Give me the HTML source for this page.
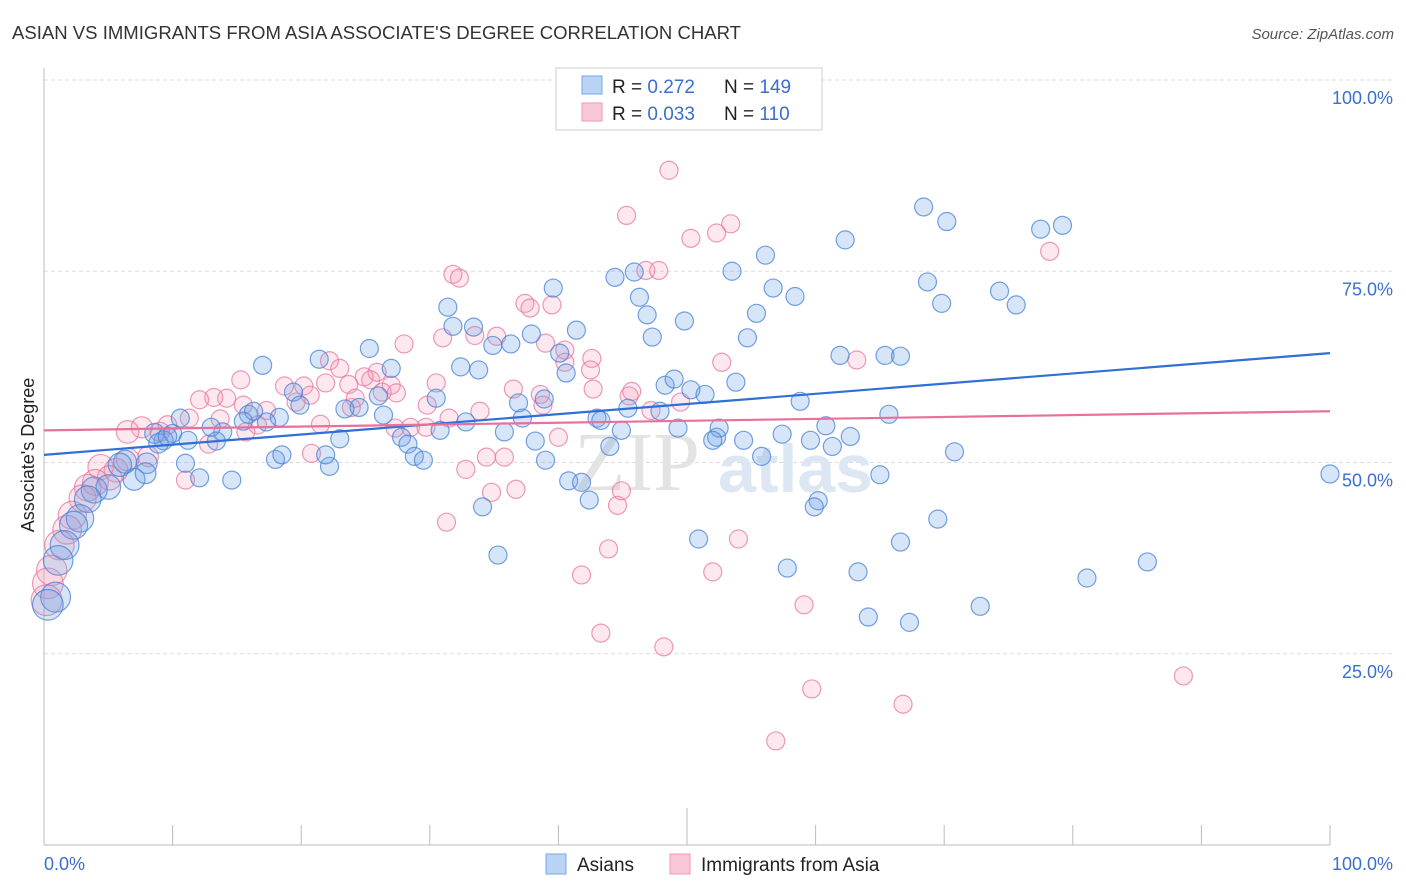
<!DOCTYPE html>
<html><head><meta charset="utf-8"><style>
body{margin:0;background:#fff;font-family:"Liberation Sans",sans-serif;}
svg{display:block}
</style></head><body>
<svg id="c" width="1406" height="892" xmlns="http://www.w3.org/2000/svg">
<text x="12" y="39" font-size="18" fill="#333" textLength="729" lengthAdjust="spacingAndGlyphs">ASIAN VS IMMIGRANTS FROM ASIA ASSOCIATE'S DEGREE CORRELATION CHART</text>
<text x="1394" y="39" font-size="15" fill="#555" font-style="italic" text-anchor="end">Source: ZipAtlas.com</text>
<g id="grid"></g>
<text x="700" y="490" font-size="84" fill="#e3e3e3" font-family="Liberation Serif,serif" text-anchor="end">ZIP</text>
<text x="718" y="492" font-size="68" fill="#dde7f3" font-weight="bold">atlas</text>
<g id="pts"></g>
<g id="lines"></g>
<text x="34" y="455" font-size="18" fill="#222" text-anchor="middle" transform="rotate(-90 34 455)">Associate's Degree</text>
<g>
<rect x="556" y="68" width="266" height="62" fill="#fff" stroke="#ccc"/>
<rect x="582" y="76" width="20" height="18" fill="#b9d3f5" stroke="#7aa6e6"/>
<rect x="582" y="103" width="20" height="18" fill="#f9c6d6" stroke="#ee9ab5"/>
<text x="612" y="93" font-size="19" fill="#222">R = <tspan fill="#3a6fd0">0.272</tspan><tspan x="724">N = </tspan><tspan fill="#3a6fd0">149</tspan></text>
<text x="612" y="120" font-size="19" fill="#222">R = <tspan fill="#3a6fd0">0.033</tspan><tspan x="724">N = </tspan><tspan fill="#3a6fd0">110</tspan></text>
</g>
<g>
<rect x="546" y="854" width="20" height="20" fill="#b9d3f5" stroke="#7aa6e6"/>
<text x="577" y="871" font-size="19" fill="#222">Asians</text>
<rect x="670" y="854" width="20" height="20" fill="#f9c6d6" stroke="#ee9ab5"/>
<text x="701" y="871" font-size="19" fill="#222">Immigrants from Asia</text>
</g>
</svg>
<script>
const yTicks=[25,50,75,100];
const yTickLabels=["25.0%","50.0%","75.0%","100.0%"];
const xTicks=[0,10,20,30,40,50,60,70,80,90,100];
const blueX=[100,68.4,70.2,77.5,79.2,62.3,56.1,53.5,68.7,74.3,75.6,69.8,56.7,58.4,55.4,54.7,44.4,45.9,46.3,46.9,47.3,49.8,39.6,41.4,37.9,36.3,34.9,31.4,31.8,33.4,32.4,33.8,30.5,25.3,27.0,26.0,21.4,17.0,19.4,24.5,23.4,23.0,22.2,21.9,26.4,27.8,28.3,28.8,29.5,30.8,32.8,35.8,37.2,38.9,40.1,40.6,43.0,43.3,45.4,44.9,44.0,47.9,48.3,49.0,50.3,51.4,53.8,58.8,61.9,65.4,66.6,65.7,60.8,62.7,61.3,59.6,57.4,54.4,52.3,52.5,52.0,49.3,55.8,70.8,65.0,60.2,59.9,50.9,57.8,63.3,66.6,69.5,64.1,67.3,72.8,81.1,85.8,35.3,34.1,42.4,40.8,41.8,38.2,39.0,36.9,19.9,18.3,15.9,16.3,15.5,17.3,13.9,13.0,13.4,10.6,10.0,9.3,8.6,8.9,11.2,11.0,12.1,14.6,18.0,18.5,9.6,8.0,7.0,7.9,6.3,5.9,5.0,3.9,3.4,2.8,2.3,1.6,1.1,0.9,0.3];
const blueY=[48.5,83.4,81.5,80.5,81.0,79.1,77.1,75.0,73.6,72.4,70.6,70.8,72.8,71.7,69.5,66.3,74.2,74.9,71.6,69.3,66.4,68.5,72.8,67.3,66.8,65.5,65.3,70.3,67.8,67.7,62.5,62.1,58.4,64.9,62.3,58.7,63.5,62.7,59.2,57.2,57.0,53.1,49.5,51.0,56.2,53.3,52.4,50.8,50.3,54.2,55.3,54.0,55.8,58.3,64.3,61.7,55.8,55.5,57.1,54.2,52.1,56.7,60.1,60.9,59.5,58.9,60.5,58.0,64.0,64.0,63.9,56.3,54.8,53.4,52.1,52.9,53.7,52.9,53.3,54.5,52.9,54.5,50.8,51.4,48.4,45.0,44.2,40.0,36.2,35.7,39.6,42.6,29.8,29.1,31.2,34.9,37.0,37.9,44.2,45.1,47.6,47.4,52.8,50.3,57.8,57.5,55.9,56.3,56.7,55.4,55.3,54.0,54.6,52.8,55.8,53.8,52.9,53.8,52.5,52.9,49.9,48.0,47.7,50.4,51.0,53.4,49.9,47.8,48.6,50.1,49.7,46.8,46.4,45.2,42.7,41.8,39.2,37.2,32.4,31.4];
const pinkX=[48.6,45.3,53.4,52.3,50.3,78.2,31.8,32.3,46.8,47.8,37.4,39.5,37.8,31.0,33.5,35.2,39.0,40.5,40.5,42.6,42.5,52.7,28.0,22.2,23.0,25.4,25.9,24.9,23.7,21.9,20.2,18.7,19.6,20.7,21.5,20.8,23.9,24.2,26.3,27.0,27.4,29.8,30.5,27.3,28.5,29.7,31.5,33.9,36.5,38.6,38.8,42.7,45.5,45.7,47.2,49.5,40.0,35.8,34.4,32.8,34.8,36.7,31.3,44.6,44.9,43.9,41.8,43.3,52.0,54.0,48.2,59.1,59.7,56.9,66.8,63.2,88.6,17.3,15.5,14.2,15.3,13.2,12.1,11.3,15.7,12.8,16.6,13.7,9.6,9.0,7.6,6.5,8.1,6.5,11.0,5.6,4.4,5.1,4.0,3.4,3.0,2.2,1.8,1.2,0.6,0.3,0.2];
const pinkY=[88.2,82.3,81.2,80.0,79.3,77.6,74.6,74.1,75.1,75.1,70.8,70.6,70.2,66.3,66.6,66.5,65.6,64.7,63.1,63.6,62.1,63.1,65.5,63.3,62.3,60.8,61.8,61.2,60.2,60.4,60.0,60.0,57.9,58.8,55.0,51.2,57.2,58.4,59.2,60.1,59.1,57.5,60.4,54.5,54.6,54.6,55.8,56.7,59.6,58.9,57.5,59.6,58.7,59.3,56.8,57.9,53.3,50.7,50.7,49.1,46.1,46.5,42.2,44.4,46.3,38.7,35.3,27.7,35.7,40.0,25.9,31.4,20.4,13.6,18.4,63.4,22.1,56.8,57.5,58.4,60.8,58.5,58.2,55.8,54.0,52.4,54.9,55.7,54.9,54.0,54.6,54.0,50.8,50.4,47.7,49.0,49.4,48.0,47.4,46.7,45.3,43.1,41.2,39.2,35.9,34.2,32.0];
const blueTrend=[51.0,64.3];
const pinkTrend=[54.2,56.7];

const NS="http://www.w3.org/2000/svg";
const X0=44,X1=1330,Y0=845,Y1=80;
function sx(v){return X0+(X1-X0)*v/100;}
function sy(v){return Y0-(Y0-Y1)*v/100;}
function mk(tag,attrs,parent){const e=document.createElementNS(NS,tag);for(const k in attrs)e.setAttribute(k,attrs[k]);parent.appendChild(e);return e;}
const grid=document.getElementById('grid');
yTicks.forEach((t,i)=>{
  const l=mk('line',{x1:X0,x2:1394,y1:sy(t),y2:sy(t),stroke:'#ddd','stroke-dasharray':'4,3'},grid);
  
  
  const tx=mk('text',{x:1393,y:sy(t)+24,'font-size':18,fill:'#3a6fd0','text-anchor':'end'},grid);
  tx.textContent=yTickLabels[i];
  
  
});
const ax=mk('line',{x1:X0,x2:X1,y1:Y0,y2:Y0,stroke:'#bbb'},grid);


const ay=mk('line',{x1:X0,x2:X0,y1:68,y2:Y0,stroke:'#bbb'},grid);


xTicks.forEach(t=>{
  const tl=mk('line',{x1:sx(t),x2:sx(t),y1:t===50?808:825,y2:Y0,stroke:'#bbb'},grid);
  
  
});
const xl0=mk('text',{x:X0,y:870,'font-size':18,fill:'#3a6fd0'},grid);xl0.textContent='0.0%';


const xl1=mk('text',{x:1393,y:870,'font-size':18,fill:'#3a6fd0','text-anchor':'end'},grid);xl1.textContent='100.0%';


const pts=document.getElementById('pts');
function series(xs,ys,fill,stroke,name){
  xs.forEach((x,i)=>{
    const r=x<10?9+(10-x)*0.65:9;
    const c=mk('circle',{cx:sx(x),cy:sy(ys[i]),r:r,fill:fill,stroke:stroke,'stroke-width':1.2},pts);
    
    
  });
}
series(pinkX,pinkY,'rgba(244,150,180,0.22)','rgba(232,120,155,0.75)','point-immigrants');
series(blueX,blueY,'rgba(110,160,230,0.28)','rgba(70,130,215,0.75)','point-asians');
const lines=document.getElementById('lines');
const bl=mk('line',{x1:sx(0),y1:sy(blueTrend[0]),x2:sx(100),y2:sy(blueTrend[1]),stroke:'#2f6fd6','stroke-width':2.2},lines);


const pl=mk('line',{x1:sx(0),y1:sy(pinkTrend[0]),x2:sx(100),y2:sy(pinkTrend[1]),stroke:'#e8709a','stroke-width':2.2},lines);


</script>
</body></html>
